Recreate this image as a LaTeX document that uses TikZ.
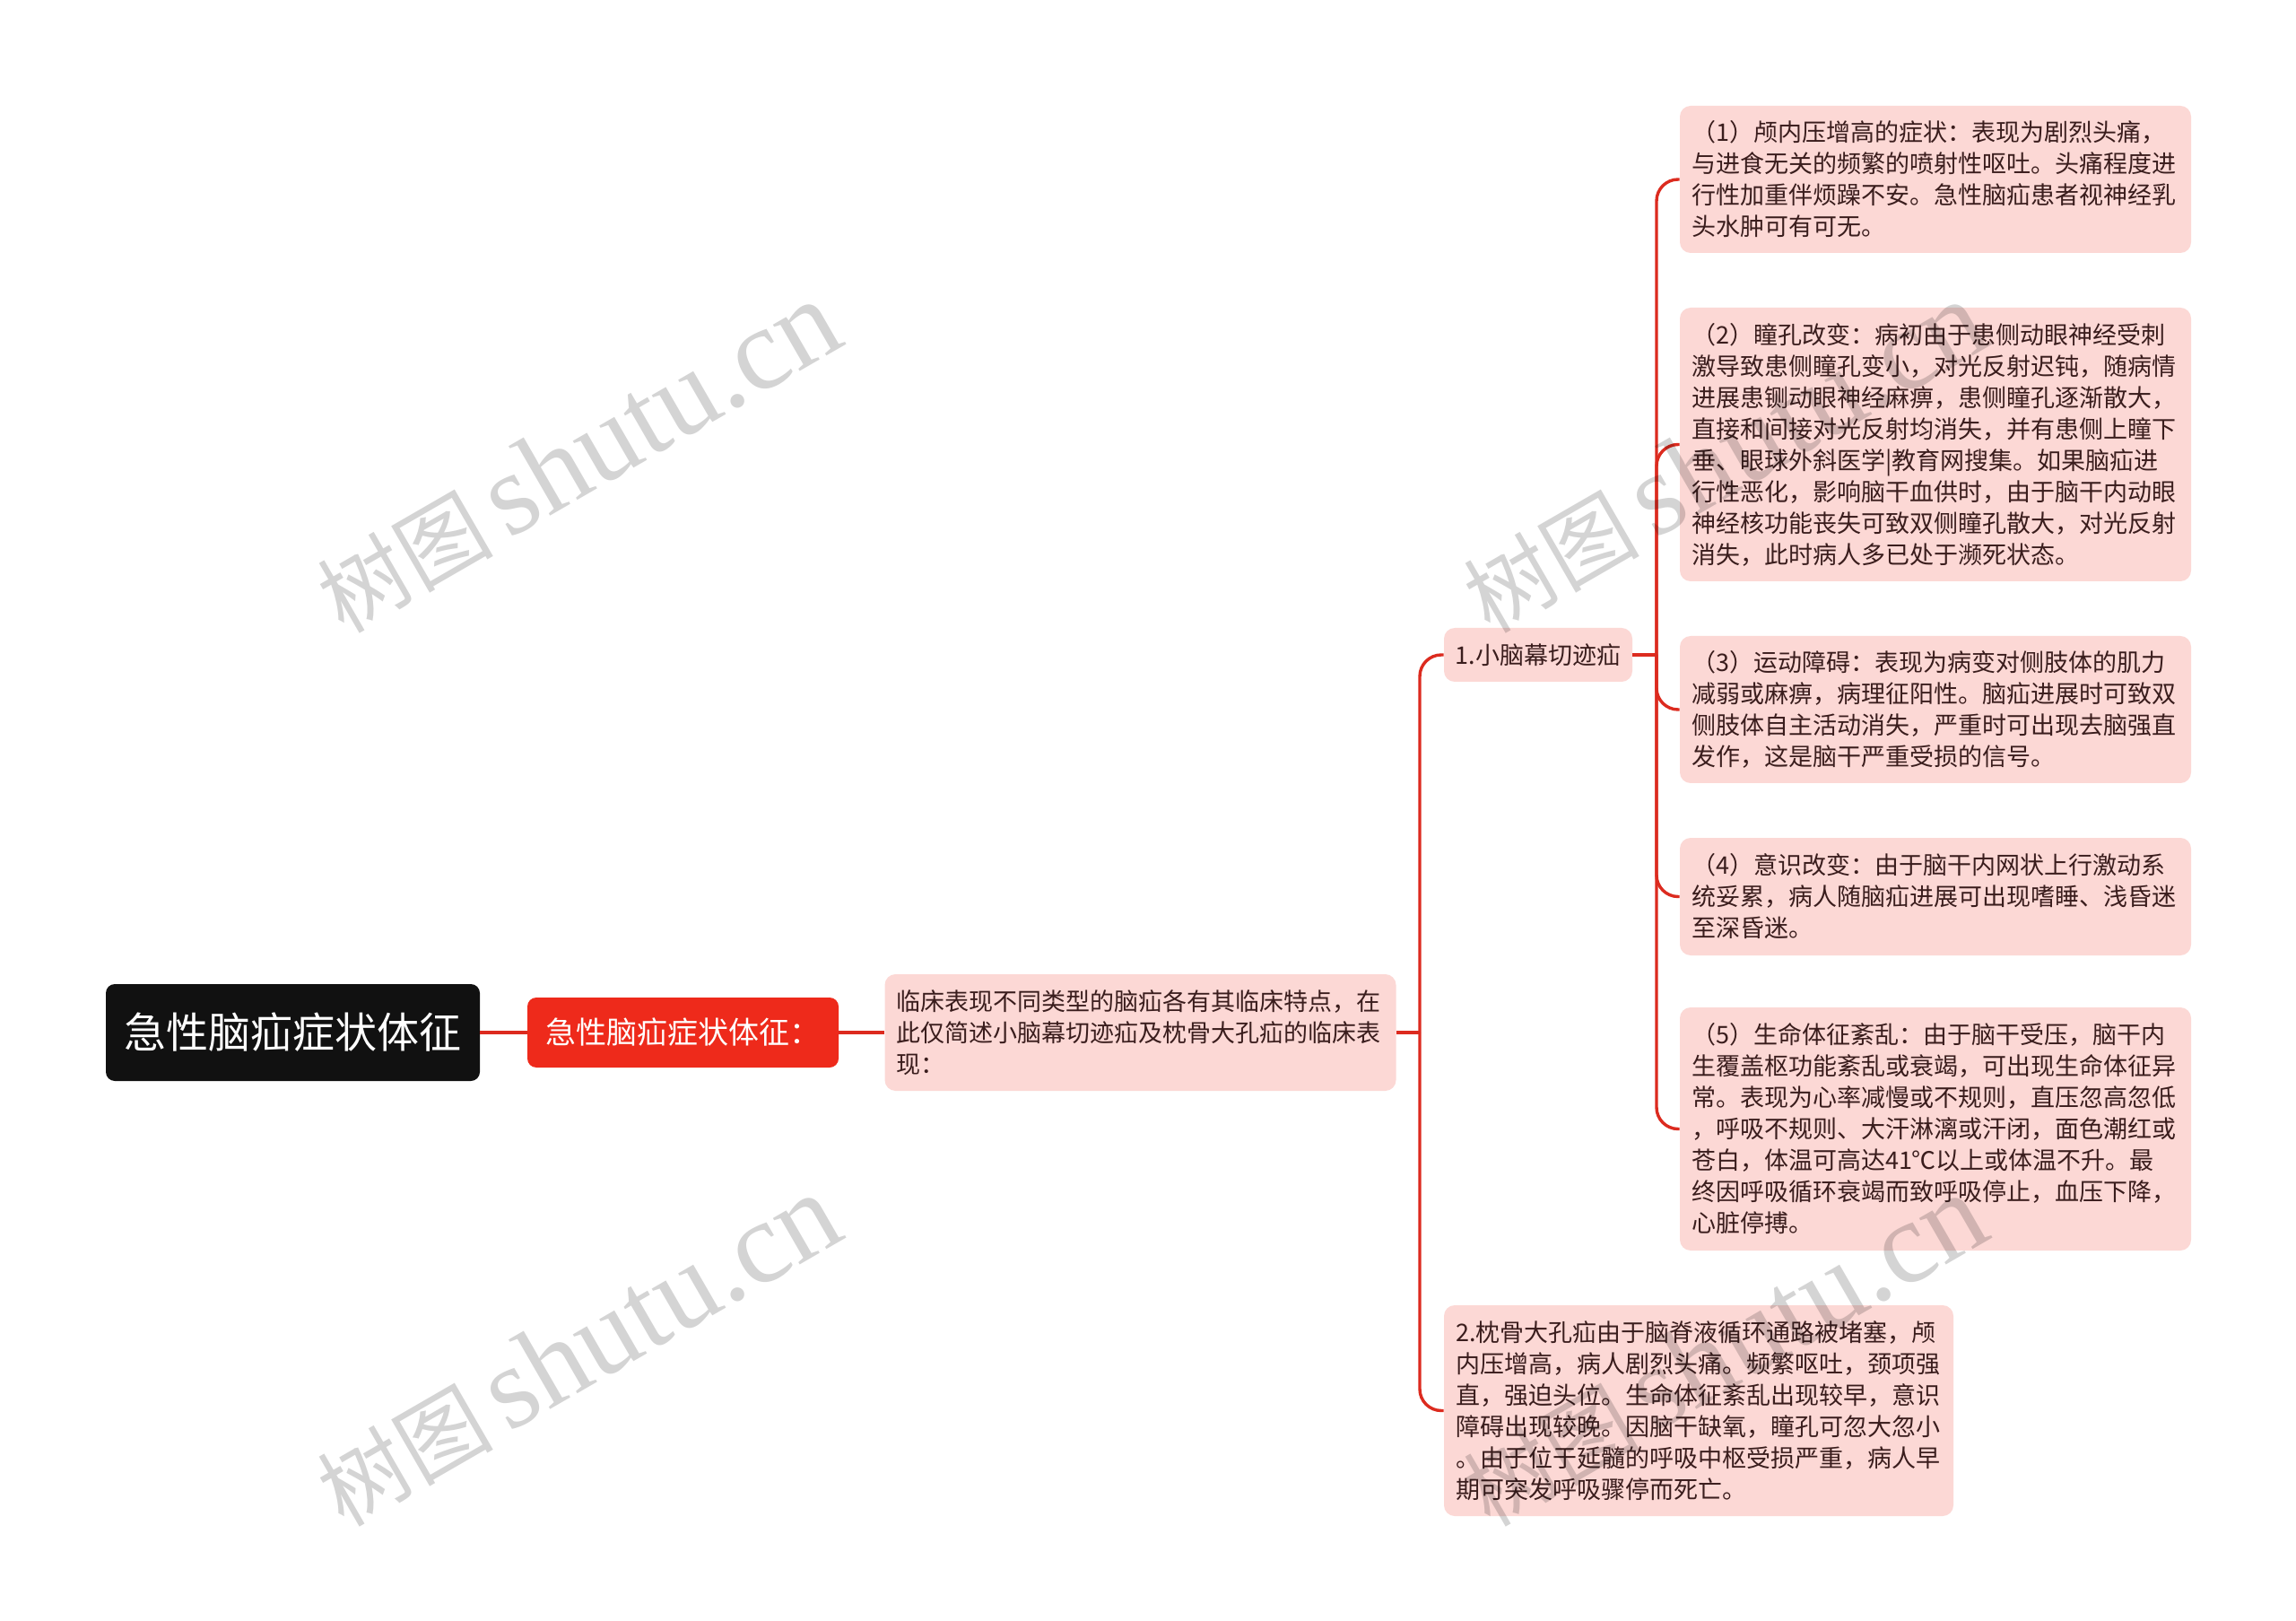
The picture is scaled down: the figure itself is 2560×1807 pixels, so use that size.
\documentclass[tikz,border=0pt]{standalone}
\usepackage{fontspec}
\setmainfont{Noto Sans CJK SC}
\newfontfamily\wmlatin{Liberation Serif}
\definecolor{linec}{HTML}{DC2B1F}
\definecolor{pinkc}{HTML}{FCD8D5}
\definecolor{redc}{HTML}{EE2A1B}
\definecolor{blackc}{HTML}{111111}
\definecolor{textc}{HTML}{3A1D1D}
\begin{document}
\begin{tikzpicture}[x=0.5pt,y=-0.5pt,
  box/.style={fill=pinkc, rounded corners=6pt, text=textc, align=left,
    inner xsep=6.5pt, inner ysep=0pt, text width=272pt,
    font=\fontsize{13.5pt}{17.5pt}\selectfont},
  conn/.style={draw=linec, line width=1.7pt, rounded corners=12pt},
  wm/.style={rotate=30, text=black, text opacity=0.17, inner sep=0pt}]
\useasboundingbox (0,0) rectangle (2560,1807);
\fill[white] (0,0) rectangle (2560,1807);

\node[fill=blackc, rounded corners=5pt, text=white, minimum width=208.5pt, minimum height=54pt,
  font=\fontsize{23.5pt}{27pt}\selectfont] (root) at (326.5,1151) {急性脑疝症状体征};
\node[fill=redc, rounded corners=5pt, text=white, minimum width=173.5pt, minimum height=39pt,
  font=\fontsize{17pt}{20pt}\selectfont] (red) at (761.5,1151) {急性脑疝症状体征：};
\node[box, minimum height=65pt] (clin) at (1271.5,1151) {临床表现不同类型的脑疝各有其临床特点，在\\此仅简述小脑幕切迹疝及枕骨大孔疝的临床表\\现：};
\node[fill=pinkc, rounded corners=6pt, text=textc, minimum width=105pt, minimum height=30pt, inner sep=0pt,
  font=\fontsize{13.5pt}{17.5pt}\selectfont] (n1) at (1715,730) {1.小脑幕切迹疝};
\node[box, minimum height=82pt] (c1) at (2158,200) {（1）颅内压增高的症状：表现为剧烈头痛，\\与进食无关的频繁的喷射性呕吐。头痛程度进\\行性加重伴烦躁不安。急性脑疝患者视神经乳\\头水肿可有可无。};
\node[box, minimum height=152.5pt] (c2) at (2158,495.5) {（2）瞳孔改变：病初由于患侧动眼神经受刺\\激导致患侧瞳孔变小，对光反射迟钝，随病情\\进展患铡动眼神经麻痹，患侧瞳孔逐渐散大，\\直接和间接对光反射均消失，并有患侧上瞳下\\垂、眼球外斜医学|教育网搜集。如果脑疝进\\行性恶化，影响脑干血供时，由于脑干内动眼\\神经核功能丧失可致双侧瞳孔散大，对光反射\\消失，此时病人多已处于濒死状态。};
\node[box, minimum height=82pt] (c3) at (2158,791) {（3）运动障碍：表现为病变对侧肢体的肌力\\减弱或麻痹，病理征阳性。脑疝进展时可致双\\侧肢体自主活动消失，严重时可出现去脑强直\\发作，这是脑干严重受损的信号。};
\node[box, minimum height=65.5pt] (c4) at (2158,999.5) {（4）意识改变：由于脑干内网状上行激动系\\统妥累，病人随脑疝进展可出现嗜睡、浅昏迷\\至深昏迷。};
\node[box, minimum height=135.5pt] (c5) at (2158,1258.5) {（5）生命体征紊乱：由于脑干受压，脑干内\\生覆盖枢功能紊乱或衰竭，可出现生命体征异\\常。表现为心率减慢或不规则，直压忽高忽低\\，呼吸不规则、大汗淋漓或汗闭，面色潮红或\\苍白，体温可高达41℃以上或体温不升。最\\终因呼吸循环衰竭而致呼吸停止，血压下降，\\心脏停搏。};
\node[box, text width=271pt, minimum height=117.5pt] (n2) at (1894,1572.5) {2.枕骨大孔疝由于脑脊液循环通路被堵塞，颅\\内压增高，病人剧烈头痛。频繁呕吐，颈项强\\直，强迫头位。生命体征紊乱出现较早，意识\\障碍出现较晚。因脑干缺氧，瞳孔可忽大忽小\\。由于位于延髓的呼吸中枢受损严重，病人早\\期可突发呼吸骤停而死亡。};

\coordinate (b0) at (1583,1151);
\coordinate (b1) at (1847,730);
\draw[conn] (root.east) -- (red.west);
\draw[conn] (red.east) -- (clin.west);
\draw[conn] (clin.east) -- (b0);
\draw[conn] (b0) |- (n1.west);
\draw[conn] (b0) |- (n2.west);
\draw[conn] (n1.east) -- (b1);
\foreach \c in {c1,c2,c3,c4,c5} { \draw[conn] (b1) |- (\c.west); }

\node[wm] (wm1) at (644,510) {\fontsize{49pt}{49pt}\selectfont 树图\,\fontsize{65pt}{65pt}\wmlatin shutu.cn};
\node[wm] (wm2) at (644,1506) {\fontsize{49pt}{49pt}\selectfont 树图\,\fontsize{65pt}{65pt}\wmlatin shutu.cn};
\node[wm] (wm3) at (1922,510) {\fontsize{49pt}{49pt}\selectfont 树图\,\fontsize{65pt}{65pt}\wmlatin shutu.cn};
\node[wm] (wm4) at (1922,1506) {\fontsize{49pt}{49pt}\selectfont 树图\,\fontsize{65pt}{65pt}\wmlatin shutu.cn};
\end{tikzpicture}
\end{document}
